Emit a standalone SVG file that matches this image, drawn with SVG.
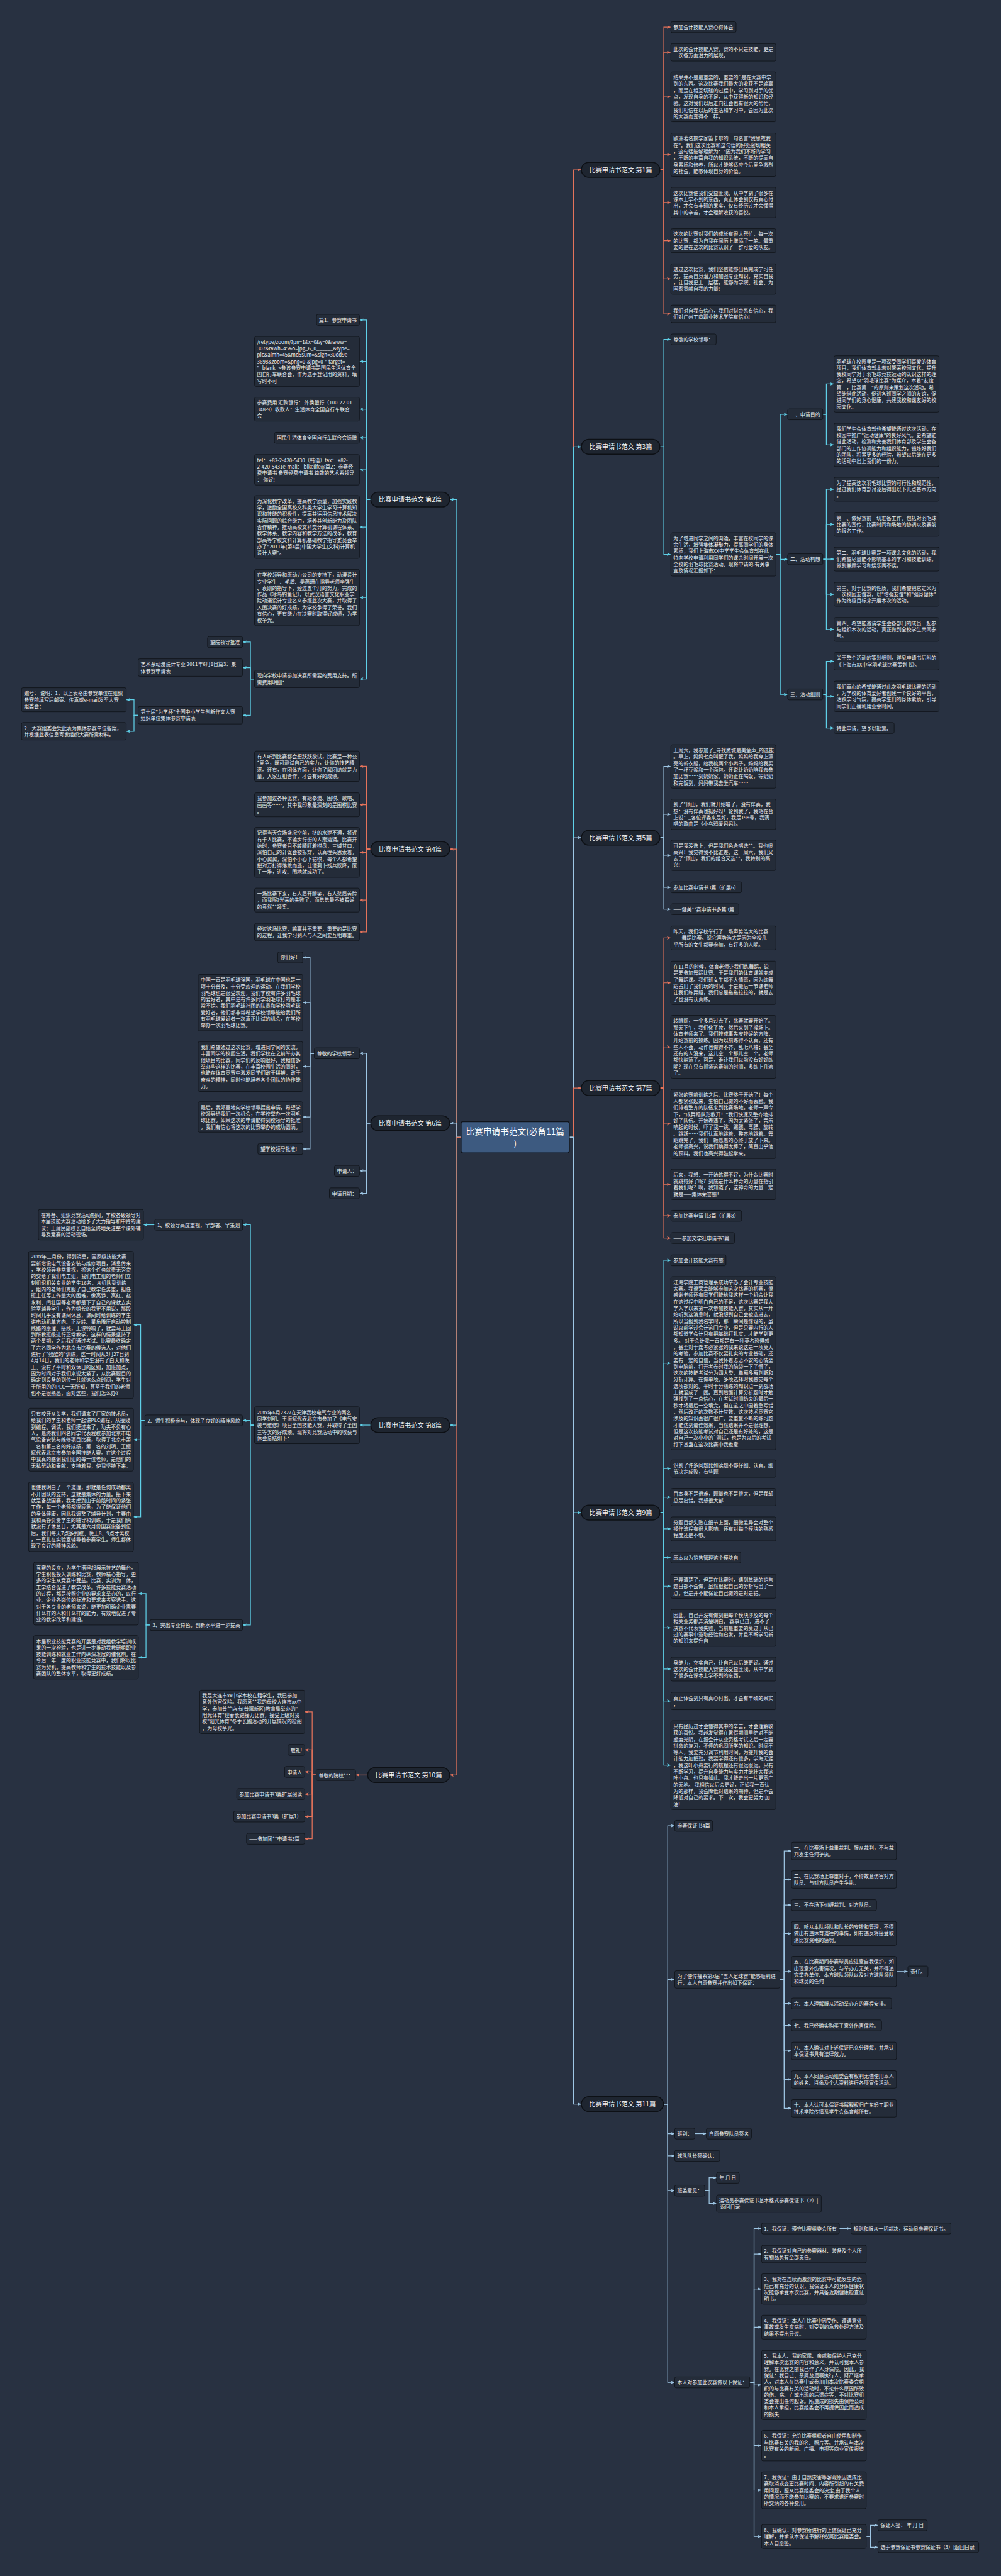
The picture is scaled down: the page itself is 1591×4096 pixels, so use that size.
<svg xmlns="http://www.w3.org/2000/svg" width="1591" height="4096" viewBox="0 0 1591 4096">
<style>
.t{font-family:"Noto Sans CJK SC","Noto Sans",sans-serif;font-size:12.8px;fill:#eef0f3}
.box{fill:#242c39;stroke:#11151c;stroke-width:1.5}
.br{fill:#1e2530;stroke:#0d1015;stroke-width:2.5}
.bt{font-family:"Noto Sans CJK SC","Noto Sans",sans-serif;font-size:16.5px;fill:#f4f6f8;text-anchor:middle}
.root{fill:#3d5a80;stroke:#11151c;stroke-width:2.5}
.rt{font-family:"Noto Sans CJK SC","Noto Sans",sans-serif;font-size:22px;fill:#ffffff;text-anchor:middle}
.l{fill:none;stroke-width:2}
.o{stroke:#e4735b;marker-end:url(#ao)}
.c{stroke:#5fd0e8;marker-end:url(#ac)}
.b{stroke:#9ec6e4;marker-end:url(#ab)}
</style>
<defs>
<marker id="ao" viewBox="0 0 10 8" refX="10" refY="4" markerWidth="10" markerHeight="8" markerUnits="userSpaceOnUse" orient="auto"><path d="M0,0 L10,4 L0,8 L2.5,4 z" fill="#e4735b"/></marker>
<marker id="ac" viewBox="0 0 10 8" refX="10" refY="4" markerWidth="10" markerHeight="8" markerUnits="userSpaceOnUse" orient="auto"><path d="M0,0 L10,4 L0,8 L2.5,4 z" fill="#5fd0e8"/></marker>
<marker id="ab" viewBox="0 0 10 8" refX="10" refY="4" markerWidth="10" markerHeight="8" markerUnits="userSpaceOnUse" orient="auto"><path d="M0,0 L10,4 L0,8 L2.5,4 z" fill="#9ec6e4"/></marker>
</defs>
<rect x="0" y="0" width="1591" height="4096" fill="#283141"/>
<g transform="scale(0.621)">
<g id="connectors">
<path class="l o" d="M1457,2912 H1468 V435 H1488"/>
<path class="l c" d="M1457,2912 H1468 V1144 H1488"/>
<path class="l b" d="M1457,2912 H1468 V2145 H1488"/>
<path class="l o" d="M1457,2912 H1468 V2786 H1488"/>
<path class="l c" d="M1457,2912 H1468 V3873 H1488"/>
<path class="l b" d="M1457,2912 H1468 V5387.5 H1488"/>
<path class="l c" d="M1180,2912 H1169 V1279 H1151"/>
<path class="l o" d="M1180,2912 H1169 V2174 H1151"/>
<path class="l b" d="M1180,2912 H1169 V2876 H1151"/>
<path class="l c" d="M1180,2912 H1169 V3649 H1151"/>
<path class="l o" d="M1180,2912 H1169 V4545 H1151"/>
<path class="l o" d="M1689,435 H1699 V69.5 H1717"/>
<path class="l o" d="M1689,435 H1699 V134 H1717"/>
<path class="l o" d="M1689,435 H1699 V248 H1717"/>
<path class="l o" d="M1689,435 H1699 V396 H1717"/>
<path class="l o" d="M1689,435 H1699 V518.5 H1717"/>
<path class="l o" d="M1689,435 H1699 V616 H1717"/>
<path class="l o" d="M1689,435 H1699 V714 H1717"/>
<path class="l o" d="M1689,435 H1699 V803.6 H1717"/>
<path class="l c" d="M1689,1144 H1699 V869 H1717"/>
<path class="l c" d="M1689,1144 H1699 V1419.5 H1717"/>
<path class="l c" d="M1986,1419.5 H1997 V1061 H2016"/>
<path class="l c" d="M1986,1419.5 H1997 V1432 H2016"/>
<path class="l c" d="M1986,1419.5 H1997 V1778 H2016"/>
<path class="l c" d="M2106,1061 H2115 V983 H2134.5"/>
<path class="l c" d="M2106,1061 H2115 V1139 H2134.5"/>
<path class="l c" d="M2106,1432 H2115 V1252.6 H2134.5"/>
<path class="l c" d="M2106,1432 H2115 V1342.6 H2134.5"/>
<path class="l c" d="M2106,1432 H2115 V1431.6 H2134.5"/>
<path class="l c" d="M2106,1432 H2115 V1521.6 H2134.5"/>
<path class="l c" d="M2106,1432 H2115 V1611.6 H2134.5"/>
<path class="l c" d="M2106,1778 H2115 V1693.3 H2134.5"/>
<path class="l c" d="M2106,1778 H2115 V1783 H2134.5"/>
<path class="l c" d="M2106,1778 H2115 V1864 H2134.5"/>
<path class="l b" d="M1689,2145 H1699 V1962.5 H1717"/>
<path class="l b" d="M1689,2145 H1699 V2085 H1717"/>
<path class="l b" d="M1689,2145 H1699 V2190 H1717"/>
<path class="l b" d="M1689,2145 H1699 V2272 H1717"/>
<path class="l b" d="M1689,2145 H1699 V2328 H1717"/>
<path class="l o" d="M1689,2786 H1699 V2401.6 H1717"/>
<path class="l o" d="M1689,2786 H1699 V2516.5 H1717"/>
<path class="l o" d="M1689,2786 H1699 V2680.5 H1717"/>
<path class="l o" d="M1689,2786 H1699 V2877.7 H1717"/>
<path class="l o" d="M1689,2786 H1699 V3032.6 H1717"/>
<path class="l o" d="M1689,2786 H1699 V3113 H1717"/>
<path class="l o" d="M1689,2786 H1699 V3170 H1717"/>
<path class="l c" d="M1689,3873 H1699 V3227 H1717"/>
<path class="l c" d="M1689,3873 H1699 V3490.5 H1717"/>
<path class="l c" d="M1689,3873 H1699 V3760.4 H1717"/>
<path class="l c" d="M1689,3873 H1699 V3833.4 H1717"/>
<path class="l c" d="M1689,3873 H1699 V3914.6 H1717"/>
<path class="l c" d="M1689,3873 H1699 V3988 H1717"/>
<path class="l c" d="M1689,3873 H1699 V4061.6 H1717"/>
<path class="l c" d="M1689,3873 H1699 V4168 H1717"/>
<path class="l c" d="M1689,3873 H1699 V4273.6 H1717"/>
<path class="l c" d="M1689,3873 H1699 V4355.4 H1717"/>
<path class="l c" d="M1689,3873 H1699 V4519.6 H1717"/>
<path class="l b" d="M1698,5387.5 H1709 V4675 H1727"/>
<path class="l b" d="M1698,5387.5 H1709 V5068.4 H1727"/>
<path class="l b" d="M1698,5387.5 H1709 V5463 H1727"/>
<path class="l b" d="M1698,5387.5 H1709 V5520 H1727"/>
<path class="l b" d="M1698,5387.5 H1709 V5609 H1727"/>
<path class="l b" d="M1698,5387.5 H1709 V6100 H1727"/>
<path class="l b" d="M1996,5068.4 H2007 V4739.4 H2025.5"/>
<path class="l b" d="M1996,5068.4 H2007 V4812.4 H2025.5"/>
<path class="l b" d="M1996,5068.4 H2007 V4878 H2025.5"/>
<path class="l b" d="M1996,5068.4 H2007 V4950.6 H2025.5"/>
<path class="l b" d="M1996,5068.4 H2007 V5048 H2025.5"/>
<path class="l b" d="M1996,5068.4 H2007 V5130 H2025.5"/>
<path class="l b" d="M1996,5068.4 H2007 V5186 H2025.5"/>
<path class="l b" d="M1996,5068.4 H2007 V5251.4 H2025.5"/>
<path class="l b" d="M1996,5068.4 H2007 V5324.4 H2025.5"/>
<path class="l b" d="M1996,5068.4 H2007 V5398.4 H2025.5"/>
<path class="l b" d="M2294.5,5048 H2323.7"/>
<path class="l b" d="M1778.4,5463 H1808"/>
<path class="l b" d="M1804,5609 H1815 V5576 H1834"/>
<path class="l b" d="M1804,5609 H1815 V5642 H1834"/>
<path class="l b" d="M1919,6100 H1930 V5706 H1949"/>
<path class="l b" d="M1919,6100 H1930 V5771.4 H1949"/>
<path class="l b" d="M1919,6100 H1930 V5861 H1949"/>
<path class="l b" d="M1919,6100 H1930 V5958.6 H1949"/>
<path class="l b" d="M1919,6100 H1930 V6106.8 H1949"/>
<path class="l b" d="M1919,6100 H1930 V6262 H1949"/>
<path class="l b" d="M1919,6100 H1930 V6376 H1949"/>
<path class="l b" d="M1919,6100 H1930 V6494.6 H1949"/>
<path class="l b" d="M2148,5706 H2178"/>
<path class="l b" d="M2217,6494.6 H2228 V6466 H2247"/>
<path class="l b" d="M2217,6494.6 H2228 V6522.5 H2247"/>
<path class="l c" d="M949,1279 H938 V819.5 H920"/>
<path class="l c" d="M949,1279 H938 V925.5 H920"/>
<path class="l c" d="M949,1279 H938 V1047.6 H920"/>
<path class="l c" d="M949,1279 H938 V1121 H920"/>
<path class="l c" d="M949,1279 H938 V1203 H920"/>
<path class="l c" d="M949,1279 H938 V1349.5 H920"/>
<path class="l c" d="M949,1279 H938 V1530 H920"/>
<path class="l c" d="M949,1279 H938 V1738.4 H920"/>
<path class="l c" d="M651.5,1738.4 H641 V1644 H621"/>
<path class="l c" d="M651.5,1738.4 H641 V1709.4 H621"/>
<path class="l c" d="M651.5,1738.4 H641 V1831.4 H621"/>
<path class="l c" d="M353.5,1831.4 H343 V1791.6 H323"/>
<path class="l c" d="M353.5,1831.4 H343 V1872.4 H323"/>
<path class="l o" d="M949,2174 H938 V1962 H920"/>
<path class="l o" d="M949,2174 H938 V2060.6 H920"/>
<path class="l o" d="M949,2174 H938 V2182.5 H920"/>
<path class="l o" d="M949,2174 H938 V2304.6 H920"/>
<path class="l o" d="M949,2174 H938 V2386.4 H920"/>
<path class="l b" d="M949,2876 H938 V2697 H920"/>
<path class="l b" d="M949,2876 H938 V2998 H920"/>
<path class="l b" d="M949,2876 H938 V3055.6 H920"/>
<path class="l b" d="M804.6,2697 H793.6 V2451.5 H775"/>
<path class="l b" d="M804.6,2697 H793.6 V2567 H775"/>
<path class="l b" d="M804.6,2697 H793.6 V2730.8 H775"/>
<path class="l b" d="M804.6,2697 H793.6 V2860 H775"/>
<path class="l b" d="M804.6,2697 H793.6 V2942 H775"/>
<path class="l c" d="M949,3649 H920"/>
<path class="l c" d="M651.5,3649 H641 V3136 H621"/>
<path class="l c" d="M651.5,3649 H641 V3637 H621"/>
<path class="l c" d="M651.5,3649 H641 V4161 H621"/>
<path class="l c" d="M396,3136 H367"/>
<path class="l c" d="M371,3637 H360 V3392.4 H341.5"/>
<path class="l c" d="M371,3637 H360 V3686.5 H341.5"/>
<path class="l c" d="M371,3637 H360 V3883.8 H341.5"/>
<path class="l c" d="M384,4161 H373.7 V4080.5 H354"/>
<path class="l c" d="M384,4161 H373.7 V4243.6 H354"/>
<path class="l o" d="M941,4545 H910"/>
<path class="l o" d="M809,4545 H799 V4383 H780"/>
<path class="l o" d="M809,4545 H799 V4480.6 H780"/>
<path class="l o" d="M809,4545 H799 V4537 H780"/>
<path class="l o" d="M809,4545 H799 V4593.6 H780"/>
<path class="l o" d="M809,4545 H799 V4651 H780"/>
<path class="l o" d="M809,4545 H799 V4708 H780"/>
</g>

<g id="root"><rect class="root" x="1180" y="2872" width="277" height="80" rx="5"/><text class="rt" x="1318.5" y="2905">比赛申请书范文(必备11篇</text><text class="rt" x="1318.5" y="2935">)</text></g>

<g id="b1"><rect class="br" x="1488" y="416" width="201" height="38" rx="19"/><text class="bt" x="1588.5" y="440.8">比赛申请书范文 第1篇</text></g>
<g id="b3"><rect class="br" x="1488" y="1125" width="201" height="38" rx="19"/><text class="bt" x="1588.5" y="1149.8">比赛申请书范文 第3篇</text></g>
<g id="b5"><rect class="br" x="1488" y="2126" width="201" height="38" rx="19"/><text class="bt" x="1588.5" y="2150.8">比赛申请书范文 第5篇</text></g>
<g id="b7"><rect class="br" x="1488" y="2767" width="201" height="38" rx="19"/><text class="bt" x="1588.5" y="2791.8">比赛申请书范文 第7篇</text></g>
<g id="b9"><rect class="br" x="1488" y="3854" width="201" height="38" rx="19"/><text class="bt" x="1588.5" y="3878.8">比赛申请书范文 第9篇</text></g>
<g id="b11"><rect class="br" x="1488" y="5368.5" width="210" height="38" rx="19"/><text class="bt" x="1593" y="5393.3">比赛申请书范文 第11篇</text></g>
<g id="b2"><rect class="br" x="949" y="1260" width="202" height="38" rx="19"/><text class="bt" x="1050" y="1284.8">比赛申请书范文 第2篇</text></g>
<g id="b4"><rect class="br" x="949" y="2155" width="202" height="38" rx="19"/><text class="bt" x="1050" y="2179.8">比赛申请书范文 第4篇</text></g>
<g id="b6"><rect class="br" x="949" y="2857" width="202" height="38" rx="19"/><text class="bt" x="1050" y="2881.8">比赛申请书范文 第6篇</text></g>
<g id="b8"><rect class="br" x="949" y="3630" width="202" height="38" rx="19"/><text class="bt" x="1050" y="3654.8">比赛申请书范文 第8篇</text></g>
<g id="b10"><rect class="br" x="941" y="4526" width="210" height="38" rx="19"/><text class="bt" x="1046" y="4550.8">比赛申请书范文 第10篇</text></g>

<!-- 第1篇 -->
<g id="n1_1"><rect class="box" x="1717" y="55.5" width="167" height="28" rx="4"/><text class="t" x="1723.5" y="74.5">参加会计技能大赛心得体会</text></g>
<g id="n1_2"><rect class="box" x="1717" y="111.6" width="269" height="44.7" rx="4"/><text class="t" x="1723.5" y="130.6"><tspan x="1723.5">此次的会计技能大赛，赛的不只是技能，更是</tspan><tspan x="1723.5" dy="16.6">一次各方面潜力的展现。</tspan></text></g>
<g id="n1_3"><rect class="box" x="1717" y="184" width="269" height="127.7" rx="4"/><text class="t" x="1723.5" y="203"><tspan x="1723.5">结果并不是最重要的，重要的`是在大赛中学</tspan><tspan x="1723.5" dy="16.6">到的东西。这次比赛我们最大的收获不是输赢</tspan><tspan x="1723.5" dy="16.6">，而是在相互切磋的过程中，学习到对手的优</tspan><tspan x="1723.5" dy="16.6">点，发现自身的不足，从中获得新的知识和经</tspan><tspan x="1723.5" dy="16.6">验。这对我们以后走向社会也有很大的帮忙，</tspan><tspan x="1723.5" dy="16.6">我们相信在以后的生活和学习中，会因为此次</tspan><tspan x="1723.5" dy="16.6">的大赛而变得不一样。</tspan></text></g>
<g id="n1_4"><rect class="box" x="1717" y="340.6" width="269" height="111.1" rx="4"/><text class="t" x="1723.5" y="359.6"><tspan x="1723.5">欧洲著名数学家笛卡尔的一句名言"我思故我</tspan><tspan x="1723.5" dy="16.6">在"。我们这次比赛和这句话的好处密切相关</tspan><tspan x="1723.5" dy="16.6">，这句话能够理解为："因为我们不断的学习</tspan><tspan x="1723.5" dy="16.6">，不断的丰富自我的知识系统，不断的提高自</tspan><tspan x="1723.5" dy="16.6">身素质和修养，所以才能够适应今后竞争激烈</tspan><tspan x="1723.5" dy="16.6">的社会，能够体现自身的价值。</tspan></text></g>
<g id="n1_5"><rect class="box" x="1717" y="479.6" width="269" height="77.9" rx="4"/><text class="t" x="1723.5" y="498.6"><tspan x="1723.5">这次比赛使我们受益匪浅，从中学到了很多在</tspan><tspan x="1723.5" dy="16.6">课本上学不到的东西，真正体会到仅有真心付</tspan><tspan x="1723.5" dy="16.6">出，才会有丰硕的果实，仅有经历过才会懂得</tspan><tspan x="1723.5" dy="16.6">其中的辛苦，才会理解收获的喜悦。</tspan></text></g>
<g id="n1_6"><rect class="box" x="1717" y="585.5" width="269" height="61.3" rx="4"/><text class="t" x="1723.5" y="604.5"><tspan x="1723.5">这次的比赛对我们的成长有很大帮忙，每一次</tspan><tspan x="1723.5" dy="16.6">的比赛，都为自我在阅历上增添了一笔。最重</tspan><tspan x="1723.5" dy="16.6">要的是在这次的比赛认识了一群可爱的队友。</tspan></text></g>
<g id="n1_7"><rect class="box" x="1717" y="675.4" width="269" height="77.9" rx="4"/><text class="t" x="1723.5" y="694.4"><tspan x="1723.5">透过这次比赛，我们坚信能够出色完成学习任</tspan><tspan x="1723.5" dy="16.6">务，提高自身潜力和加强专业知识，充实自我</tspan><tspan x="1723.5" dy="16.6">，让自我更上一层楼，能够为学院、社会、为</tspan><tspan x="1723.5" dy="16.6">国家贡献自我的力量!</tspan></text></g>
<g id="n1_8"><rect class="box" x="1717" y="781.3" width="269" height="44.7" rx="4"/><text class="t" x="1723.5" y="800.3"><tspan x="1723.5">我们对自我有信心，我们对财金系有信心，我</tspan><tspan x="1723.5" dy="16.6">们对广州工商职业技术学院有信心!</tspan></text></g>

<!-- 第3篇 -->
<g id="n3_1"><rect class="box" x="1717" y="855" width="116" height="28" rx="4"/><text class="t" x="1723.5" y="874">尊敬的学校领导：</text></g>
<g id="n3_2"><rect class="box" x="1717" y="1364" width="269" height="111.1" rx="4"/><text class="t" x="1723.5" y="1383"><tspan x="1723.5">为了增进同学之间的沟通，丰富在校同学的课</tspan><tspan x="1723.5" dy="16.6">余生活，增强集体凝聚力，提高同学们的身体</tspan><tspan x="1723.5" dy="16.6">素质，我们上海市XX中学学生会体育部在此</tspan><tspan x="1723.5" dy="16.6">特向学校申请利用同学们的课余时间开展一次</tspan><tspan x="1723.5" dy="16.6">全校的羽毛球比赛活动。现将申请的.有关事</tspan><tspan x="1723.5" dy="16.6">宜及情况汇报如下：</tspan></text></g>
<g id="n3_s1"><rect class="box" x="2016" y="1047" width="90" height="28" rx="4"/><text class="t" x="2022.5" y="1066">一、申请目的</text></g>
<g id="n3_s1a"><rect class="box" x="2134.5" y="911" width="269" height="144.3" rx="4"/><text class="t" x="2141" y="930"><tspan x="2141">羽毛球在校园里是一项深受同学们喜爱的体育</tspan><tspan x="2141" dy="16.6">项目，我们体育部本着对繁荣校园文化，提升</tspan><tspan x="2141" dy="16.6">我校同学对于羽毛球竞技运动的认识这样的理</tspan><tspan x="2141" dy="16.6">念，希望以"羽毛球比赛"为媒介，本着"友谊</tspan><tspan x="2141" dy="16.6">第一，比赛第二"的原则来策划这次活动。希</tspan><tspan x="2141" dy="16.6">望能借此活动，促进各班同学之间的友谊，促</tspan><tspan x="2141" dy="16.6">进同学们的身心健康，共建我校和谐友好的校</tspan><tspan x="2141" dy="16.6">园文化。</tspan></text></g>
<g id="n3_s1b"><rect class="box" x="2134.5" y="1083.6" width="269" height="111.1" rx="4"/><text class="t" x="2141" y="1102.6"><tspan x="2141">我们学生会体育部也希望能通过这次活动，在</tspan><tspan x="2141" dy="16.6">校园中推广"运动健康"的良好风气。更希望能</tspan><tspan x="2141" dy="16.6">借此活动，检测和完善我们体育部及学生会各</tspan><tspan x="2141" dy="16.6">部门的工作协调能力和组织能力，锻炼好我们</tspan><tspan x="2141" dy="16.6">的团队，积累更多的经验，希望以后能在更多</tspan><tspan x="2141" dy="16.6">的活动中出上我们的一份力。</tspan></text></g>
<g id="n3_s2"><rect class="box" x="2016" y="1418" width="90" height="28" rx="4"/><text class="t" x="2022.5" y="1437">二、活动构想</text></g>
<g id="n3_s2a"><rect class="box" x="2134.5" y="1222" width="269" height="61.3" rx="4"/><text class="t" x="2141" y="1241"><tspan x="2141">为了提高这次羽毛球比赛的可行性和规范性，</tspan><tspan x="2141" dy="16.6">经过我们体育部讨论后得出以下几点基本方向</tspan><tspan x="2141" dy="16.6">。</tspan></text></g>
<g id="n3_s2b"><rect class="box" x="2134.5" y="1312" width="269" height="61.3" rx="4"/><text class="t" x="2141" y="1331"><tspan x="2141">第一、做好赛前一切准备工作，包括对羽毛球</tspan><tspan x="2141" dy="16.6">比赛的宣传、比赛时间和场地的协调以及赛前</tspan><tspan x="2141" dy="16.6">的报名工作。</tspan></text></g>
<g id="n3_s2c"><rect class="box" x="2134.5" y="1401" width="269" height="61.3" rx="4"/><text class="t" x="2141" y="1420"><tspan x="2141">第二、羽毛球比赛是一项课余文化的活动，我</tspan><tspan x="2141" dy="16.6">们希望尽量能不影响基本的学习和技能训练，</tspan><tspan x="2141" dy="16.6">做到兼顾学习和娱乐两不误。</tspan></text></g>
<g id="n3_s2d"><rect class="box" x="2134.5" y="1491" width="269" height="61.3" rx="4"/><text class="t" x="2141" y="1510"><tspan x="2141">第三、对于比赛的性质，我们希望把它定义为</tspan><tspan x="2141" dy="16.6">一次校园友谊赛，以"增强友谊"和"强身健体"</tspan><tspan x="2141" dy="16.6">作为终极目标来开展本次的活动。</tspan></text></g>
<g id="n3_s2e"><rect class="box" x="2134.5" y="1581" width="269" height="61.3" rx="4"/><text class="t" x="2141" y="1600"><tspan x="2141">第四、希望能邀请学生会各部门的成员一起参</tspan><tspan x="2141" dy="16.6">与组织本次的活动，真正做到全校学生共同参</tspan><tspan x="2141" dy="16.6">与。</tspan></text></g>
<g id="n3_s3"><rect class="box" x="2016" y="1764" width="90" height="28" rx="4"/><text class="t" x="2022.5" y="1783">三、活动细则</text></g>
<g id="n3_s3a"><rect class="box" x="2134.5" y="1671" width="269" height="44.7" rx="4"/><text class="t" x="2141" y="1690"><tspan x="2141">关于整个活动的策划细则，详见申请书后附的</tspan><tspan x="2141" dy="16.6">《上海市XX中学羽毛球比赛策划书》。</tspan></text></g>
<g id="n3_s3b"><rect class="box" x="2134.5" y="1744" width="269" height="77.9" rx="4"/><text class="t" x="2141" y="1763"><tspan x="2141">我们真心的希望能通过此次羽毛球比赛的活动</tspan><tspan x="2141" dy="16.6">，为学校的体育爱好者创建一个良好的平台，</tspan><tspan x="2141" dy="16.6">活跃学习气氛，提高学生们的身体素质，引导</tspan><tspan x="2141" dy="16.6">同学们正确利用业余时间。</tspan></text></g>
<g id="n3_s3c"><rect class="box" x="2134.5" y="1850" width="154" height="28" rx="4"/><text class="t" x="2141" y="1869">特此申请，望予以批复。</text></g>

<!-- 第5篇 -->
<g id="n5_1"><rect class="box" x="1717" y="1907" width="269" height="111.1" rx="4"/><text class="t" x="1723.5" y="1926"><tspan x="1723.5">上周六，我参加了_寻找鹰城最美童声_的选拔</tspan><tspan x="1723.5" dy="16.6">。早上，妈妈七点叫醒了我。妈妈给我穿上漂</tspan><tspan x="1723.5" dy="16.6">亮的新衣服，给我梳两个小辫子。妈妈给我买</tspan><tspan x="1723.5" dy="16.6">了一杯豆浆和一个面包。还说让奶奶陪我去参</tspan><tspan x="1723.5" dy="16.6">加比赛……到奶奶家，奶奶正在喝饭，等奶奶</tspan><tspan x="1723.5" dy="16.6">和完饭到，妈妈带我去坐汽车……</tspan></text></g>
<g id="n5_2"><rect class="box" x="1717" y="2046" width="269" height="77.9" rx="4"/><text class="t" x="1723.5" y="2065"><tspan x="1723.5">到了*顶山，我们就开始唱了，没有伴奏，我</tspan><tspan x="1723.5" dy="16.6">想：没有伴奏也挺好呀！轮到我了，我站在台</tspan><tspan x="1723.5" dy="16.6">上说：_各位评委来是好，我是198号，我演</tspan><tspan x="1723.5" dy="16.6">唱的歌曲是《小乌鸦爱妈妈》。_</tspan></text></g>
<g id="n5_3"><rect class="box" x="1717" y="2151" width="269" height="77.9" rx="4"/><text class="t" x="1723.5" y="2170"><tspan x="1723.5">可是我没选上，但是我们色合唱选**。我也很</tspan><tspan x="1723.5" dy="16.6">高兴！我觉得我不比谁差，这一周六，我们又</tspan><tspan x="1723.5" dy="16.6">去了*顶山，我们的组合又选**。我特别的高</tspan><tspan x="1723.5" dy="16.6">兴!</tspan></text></g>
<g id="n5_4"><rect class="box" x="1717" y="2258" width="181" height="28" rx="4"/><text class="t" x="1723.5" y="2277">参加比赛申请书3篇（扩展6）</text></g>
<g id="n5_5"><rect class="box" x="1717" y="2314" width="174" height="28" rx="4"/><text class="t" x="1723.5" y="2333">——健美**赛申请书多篇3篇</text></g>

<!-- 第7篇 -->
<g id="n7_1"><rect class="box" x="1717" y="2371" width="269" height="61.3" rx="4"/><text class="t" x="1723.5" y="2390"><tspan x="1723.5">昨天，我们学校举行了一场声势浩大的比赛</tspan><tspan x="1723.5" dy="16.6">——舞蹈比赛。说它声势浩大是因为全校几</tspan><tspan x="1723.5" dy="16.6">乎所有的女生都要参加，有好多的人呢。</tspan></text></g>
<g id="n7_2"><rect class="box" x="1717" y="2461" width="269" height="111.1" rx="4"/><text class="t" x="1723.5" y="2480"><tspan x="1723.5">在11月的时候，体育老师让我们练舞蹈，说</tspan><tspan x="1723.5" dy="16.6">是要参加舞蹈比赛。于是我们的体育课就变成</tspan><tspan x="1723.5" dy="16.6">了舞蹈课。我们班女生都不大情愿，因为练舞</tspan><tspan x="1723.5" dy="16.6">蹈占用了我们玩的时间。于是最后一节课老师</tspan><tspan x="1723.5" dy="16.6">让我们练舞蹈，我们总是拖拖拉拉的，就是去</tspan><tspan x="1723.5" dy="16.6">了也没有认真练。</tspan></text></g>
<g id="n7_3"><rect class="box" x="1717" y="2600" width="269" height="160.9" rx="4"/><text class="t" x="1723.5" y="2619"><tspan x="1723.5">转眼间，一个多月过去了，比赛就要开始了。</tspan><tspan x="1723.5" dy="16.6">那天下午，我们化了妆，然后来到了操场上。</tspan><tspan x="1723.5" dy="16.6">体育老师来了。我们排成事先安排好的方阵，</tspan><tspan x="1723.5" dy="16.6">开始赛前的操练。因为以前练得不认真，还有</tspan><tspan x="1723.5" dy="16.6">些人不会，动作也做得不齐，乱七八糟；甚至</tspan><tspan x="1723.5" dy="16.6">还有的人没来，这儿空一个那儿空一个。老师</tspan><tspan x="1723.5" dy="16.6">都快崩溃了。可是，谁让我们以前没有好好练</tspan><tspan x="1723.5" dy="16.6">呢？现在只有抓紧这赛前的时间，多练上几遍</tspan><tspan x="1723.5" dy="16.6">了。</tspan></text></g>
<g id="n7_4"><rect class="box" x="1717" y="2789" width="269" height="177.5" rx="4"/><text class="t" x="1723.5" y="2808"><tspan x="1723.5">紧张的赛前训练之后，比赛终于开始了！每个</tspan><tspan x="1723.5" dy="16.6">人都紧张起来，生怕自己做的不好而丢脸。我</tspan><tspan x="1723.5" dy="16.6">们排着整齐的队伍来到比赛场地。老师一声令</tspan><tspan x="1723.5" dy="16.6">下，"成舞蹈队形散开！"我们快速又整齐地排</tspan><tspan x="1723.5" dy="16.6">好了队伍。开始表演了。因为太紧张了，音乐</tspan><tspan x="1723.5" dy="16.6">响起的时候，吓了我一跳。踢腿、弯腰、旋转</tspan><tspan x="1723.5" dy="16.6">、跳跃……我们认真地跳着，整齐地跳着。舞</tspan><tspan x="1723.5" dy="16.6">蹈跳完了，我们一颗悬着的心终于放了下来。</tspan><tspan x="1723.5" dy="16.6">老师很高兴，说我们跳得太棒了，简直出乎他</tspan><tspan x="1723.5" dy="16.6">的预料。我们也高兴得鼓起掌来。</tspan></text></g>
<g id="n7_5"><rect class="box" x="1717" y="2993.6" width="269" height="77.9" rx="4"/><text class="t" x="1723.5" y="3012.6"><tspan x="1723.5">后来，我想：一开始练得不好，为什么比赛时</tspan><tspan x="1723.5" dy="16.6">就跳得好了呢？到底是什么神奇的力量在指引</tspan><tspan x="1723.5" dy="16.6">着我们呢？啊，我知道了，这神奇的力量一定</tspan><tspan x="1723.5" dy="16.6">就是——集体荣誉感！</tspan></text></g>
<g id="n7_6"><rect class="box" x="1717" y="3099" width="181" height="28" rx="4"/><text class="t" x="1723.5" y="3118">参加比赛申请书3篇（扩展8）</text></g>
<g id="n7_7"><rect class="box" x="1717" y="3156" width="163" height="28" rx="4"/><text class="t" x="1723.5" y="3175">——参加文学社申请书3篇</text></g>

<!-- 第9篇 -->
<g id="n9_1"><rect class="box" x="1717" y="3213" width="141" height="28" rx="4"/><text class="t" x="1723.5" y="3232">参加会计技能大赛有感</text></g>
<g id="n9_2"><rect class="box" x="1717" y="3269" width="269" height="443.1" rx="4"/><text class="t" x="1723.5" y="3288"><tspan x="1723.5">江海学院工商管理系成功举办了会计专业技能</tspan><tspan x="1723.5" dy="16.6">大赛。我很荣幸能够参加这次比赛的初赛，很</tspan><tspan x="1723.5" dy="16.6">感谢老师还有同学们能给我这样一个机会让我</tspan><tspan x="1723.5" dy="16.6">在这过程中明白自己的不足，这次比赛是我大</tspan><tspan x="1723.5" dy="16.6">学入学以来第一次参加技能大赛，其实从一开</tspan><tspan x="1723.5" dy="16.6">始听到这消息时，就没想到自己会被选进去，</tspan><tspan x="1723.5" dy="16.6">所以当报到我名字时，那一瞬间是惊讶的，虽</tspan><tspan x="1723.5" dy="16.6">说以前学过会计这门专业，但是只要内行的人</tspan><tspan x="1723.5" dy="16.6">都知道学会计只有把基础打扎实，才能学到更</tspan><tspan x="1723.5" dy="16.6">多。 对于会计我一直都是有一种莫名恐惧感</tspan><tspan x="1723.5" dy="16.6">，甚至对于逢考必紧张的我来说这是一项莫大</tspan><tspan x="1723.5" dy="16.6">的考验，参加比赛不仅要扎实的专业基础，还</tspan><tspan x="1723.5" dy="16.6">要有一定的自信，当我怀着忐忑不安的心情坐</tspan><tspan x="1723.5" dy="16.6">到电脑前，打开考卷时我的脑袋一下子懵了，</tspan><tspan x="1723.5" dy="16.6">这次的技能考试分为四大类，单癣多癣判断和</tspan><tspan x="1723.5" dy="16.6">分析计算。在做单项，多项选择时我感觉每个</tspan><tspan x="1723.5" dy="16.6">选项都对的。平时十分熟练的知识点一到战场</tspan><tspan x="1723.5" dy="16.6">上就混成了一团。直到后面计算分析题时才勉</tspan><tspan x="1723.5" dy="16.6">强找到了一点信心，在考试时间结束的最后一</tspan><tspan x="1723.5" dy="16.6">秒才将最后一空填完，但在这之中因着急写错</tspan><tspan x="1723.5" dy="16.6">，然后改正的次数不计其数，这次技术竞赛它</tspan><tspan x="1723.5" dy="16.6">涉及的知识面很广很广，要重复不断的练习题</tspan><tspan x="1723.5" dy="16.6">才能达到最佳效果，当然结果并不是很理想，</tspan><tspan x="1723.5" dy="16.6">但是这次技能考试对自己还是有好处的，这是</tspan><tspan x="1723.5" dy="16.6">对自己一次小小的`测试，也是为以后的考试</tspan><tspan x="1723.5" dy="16.6">打下基蛊在这次比赛中我也意</tspan></text></g>
<g id="n9_3"><rect class="box" x="1717" y="3738" width="269" height="44.7" rx="4"/><text class="t" x="1723.5" y="3757"><tspan x="1723.5">识到了许多问题比如读题不够仔细、认真。细</tspan><tspan x="1723.5" dy="16.6">节决定成败，有些题</tspan></text></g>
<g id="n9_4"><rect class="box" x="1717" y="3811" width="269" height="44.7" rx="4"/><text class="t" x="1723.5" y="3830"><tspan x="1723.5">目本身不是很难，题量也不是很大，但是我却</tspan><tspan x="1723.5" dy="16.6">总是出错。我想很大部</tspan></text></g>
<g id="n9_5"><rect class="box" x="1717" y="3884" width="269" height="61.3" rx="4"/><text class="t" x="1723.5" y="3903"><tspan x="1723.5">分题目都失败在细节上面，细微差异会对整个</tspan><tspan x="1723.5" dy="16.6">操作流程有很大影响。还有对每个模块的熟悉</tspan><tspan x="1723.5" dy="16.6">程度还是不够。</tspan></text></g>
<g id="n9_6"><rect class="box" x="1717" y="3974" width="179" height="28" rx="4"/><text class="t" x="1723.5" y="3993">原本以为销售管理这个模块自</text></g>
<g id="n9_7"><rect class="box" x="1717" y="4031" width="269" height="61.3" rx="4"/><text class="t" x="1723.5" y="4050"><tspan x="1723.5">己弄清楚了，但是在比赛时，遇到基础的销售</tspan><tspan x="1723.5" dy="16.6">题目都不会做，虽然根据自己的分析写出了一</tspan><tspan x="1723.5" dy="16.6">点，但是并不能保证自己做的是对是错。</tspan></text></g>
<g id="n9_8"><rect class="box" x="1717" y="4121" width="269" height="94.5" rx="4"/><text class="t" x="1723.5" y="4140"><tspan x="1723.5">因此，自己并没有做到把每个模块涉及的每个</tspan><tspan x="1723.5" dy="16.6">相关业务都弄清楚明白。 赛事已过，进不了</tspan><tspan x="1723.5" dy="16.6">决赛不代表我失败，当前最重要的莫过于从已</tspan><tspan x="1723.5" dy="16.6">过的赛事中汲取经验和启发，并且不断学习新</tspan><tspan x="1723.5" dy="16.6">的知识来提升自</tspan></text></g>
<g id="n9_9"><rect class="box" x="1717" y="4243" width="269" height="61.3" rx="4"/><text class="t" x="1723.5" y="4262"><tspan x="1723.5">身能力，充实自己，让自己以后能更好。通过</tspan><tspan x="1723.5" dy="16.6">这次的会计技能大赛使我受益匪浅，从中学到</tspan><tspan x="1723.5" dy="16.6">了很多在课本上学不到的东西，</tspan></text></g>
<g id="n9_10"><rect class="box" x="1717" y="4333" width="269" height="44.7" rx="4"/><text class="t" x="1723.5" y="4352"><tspan x="1723.5">真正体会到只有真心付出，才会有丰硕的果实</tspan><tspan x="1723.5" dy="16.6">，</tspan></text></g>
<g id="n9_11"><rect class="box" x="1717" y="4406" width="269" height="227.3" rx="4"/><text class="t" x="1723.5" y="4425"><tspan x="1723.5">只有经历过才会懂得其中的辛苦，才会理解收</tspan><tspan x="1723.5" dy="16.6">获的喜悦。我越发觉得在暑假期间里绝对不能</tspan><tspan x="1723.5" dy="16.6">虚度光阴，在报会计从业资格考试之后一定要</tspan><tspan x="1723.5" dy="16.6">拼命的复习，不停的巩固所学的知识。时间不</tspan><tspan x="1723.5" dy="16.6">等人，我要充分调节利用时间，为提升我的会</tspan><tspan x="1723.5" dy="16.6">计能力加把劲。我要学得还有很多，学海无涯</tspan><tspan x="1723.5" dy="16.6">，我这叶小舟要行的航程还有很远很远。只有</tspan><tspan x="1723.5" dy="16.6">不断学习，提升自身能力与实力才能壮大我这</tspan><tspan x="1723.5" dy="16.6">叶小舟。也只有如此，我才能走出一片更宽广</tspan><tspan x="1723.5" dy="16.6">的天地。 我相信以后会更好，正如我一直认</tspan><tspan x="1723.5" dy="16.6">为的那样，我会降低对结果的期待，但是不会</tspan><tspan x="1723.5" dy="16.6">降低对自己的要求。下一次，我会更努力!加</tspan><tspan x="1723.5" dy="16.6">油!</tspan></text></g>

<!-- 第11篇 -->
<g id="n11_1"><rect class="box" x="1727" y="4661" width="97" height="28" rx="4"/><text class="t" x="1733.5" y="4680">参赛保证书4篇</text></g>
<g id="n11_2"><rect class="box" x="1727" y="5046" width="269" height="44.7" rx="4"/><text class="t" x="1733.5" y="5065"><tspan x="1733.5">为了使传播系第x届 "五人足球赛"能够顺利进</tspan><tspan x="1733.5" dy="16.6">行，本人自愿参赛并作出如下保证：</tspan></text></g>
<g id="n11_2a"><rect class="box" x="2025.5" y="4717" width="269" height="44.7" rx="4"/><text class="t" x="2032" y="4736"><tspan x="2032">一、在比赛场上尊重裁判、服从裁判，不与裁</tspan><tspan x="2032" dy="16.6">判发生任何争执。</tspan></text></g>
<g id="n11_2b"><rect class="box" x="2025.5" y="4790" width="269" height="44.7" rx="4"/><text class="t" x="2032" y="4809"><tspan x="2032">二、在比赛场上尊重对手，不得故意伤害对方</tspan><tspan x="2032" dy="16.6">队员、与对方队员产生争执。</tspan></text></g>
<g id="n11_2c"><rect class="box" x="2025.5" y="4864" width="218" height="28" rx="4"/><text class="t" x="2032" y="4883">三、不在场下纠缠裁判、对方队员。</text></g>
<g id="n11_2d"><rect class="box" x="2025.5" y="4920" width="269" height="61.3" rx="4"/><text class="t" x="2032" y="4939"><tspan x="2032">四、听从本队领队和队长的安排和管理，不得</tspan><tspan x="2032" dy="16.6">做出有违体育道德的事情，如有违反将接受取</tspan><tspan x="2032" dy="16.6">消比赛资格的惩罚。</tspan></text></g>
<g id="n11_2e"><rect class="box" x="2025.5" y="5009" width="269" height="77.9" rx="4"/><text class="t" x="2032" y="5028"><tspan x="2032">五、在比赛期间参赛球员应注意自我保护，如</tspan><tspan x="2032" dy="16.6">出现意外伤害情况，与举办方无关，并不得追</tspan><tspan x="2032" dy="16.6">究举办单位、本方球队领队以及对方球队领队</tspan><tspan x="2032" dy="16.6">和球员的任何</tspan></text></g>
<g id="n11_2e1"><rect class="box" x="2323.7" y="5034" width="51.4" height="28" rx="4"/><text class="t" x="2330.2" y="5053">责任。</text></g>
<g id="n11_2f"><rect class="box" x="2025.5" y="5116" width="256.6" height="28" rx="4"/><text class="t" x="2032" y="5135">六、本人理解服从活动举办方的赛程安排。</text></g>
<g id="n11_2g"><rect class="box" x="2025.5" y="5172" width="231" height="28" rx="4"/><text class="t" x="2032" y="5191">七、我已经确实购买了意外伤害保险。</text></g>
<g id="n11_2h"><rect class="box" x="2025.5" y="5229" width="269" height="44.7" rx="4"/><text class="t" x="2032" y="5248"><tspan x="2032">八、本人确认对上述保证已充分理解，并承认</tspan><tspan x="2032" dy="16.6">本保证书具有法律效力。</tspan></text></g>
<g id="n11_2i"><rect class="box" x="2025.5" y="5302" width="269" height="44.7" rx="4"/><text class="t" x="2032" y="5321"><tspan x="2032">九、本人同意活动组委会有权利无偿使用本人</tspan><tspan x="2032" dy="16.6">的姓名、肖像及个人资料进行各项宣传活动。</tspan></text></g>
<g id="n11_2j"><rect class="box" x="2025.5" y="5376" width="269" height="44.7" rx="4"/><text class="t" x="2032" y="5395"><tspan x="2032">十、本人认可本保证书解释权归广东轻工职业</tspan><tspan x="2032" dy="16.6">技术学院传播系学生会体育部所有。</tspan></text></g>
<g id="n11_3"><rect class="box" x="1727" y="5449" width="51.4" height="28" rx="4"/><text class="t" x="1733.5" y="5468">班别：</text></g>
<g id="n11_3a"><rect class="box" x="1808" y="5449" width="115.4" height="28" rx="4"/><text class="t" x="1814.5" y="5468">自愿参赛队员签名</text></g>
<g id="n11_4"><rect class="box" x="1727" y="5506" width="115.4" height="28" rx="4"/><text class="t" x="1733.5" y="5525">球队队长签确认：</text></g>
<g id="n11_5"><rect class="box" x="1727" y="5595" width="77" height="28" rx="4"/><text class="t" x="1733.5" y="5614">班委意见：</text></g>
<g id="n11_5a"><rect class="box" x="1834" y="5562" width="58" height="28" rx="4"/><text class="t" x="1840.5" y="5581">年 月 日</text></g>
<g id="n11_5b"><rect class="box" x="1834" y="5620" width="268" height="44.7" rx="4"/><text class="t" x="1840.5" y="5639"><tspan x="1840.5">运动员参赛保证书基本格式参赛保证书（2）|</tspan><tspan x="1840.5" dy="16.6"> 返回目录</tspan></text></g>
<g id="n11_6"><rect class="box" x="1727" y="6086" width="192" height="28" rx="4"/><text class="t" x="1733.5" y="6105">本人对参加此次赛做以下保证：</text></g>
<g id="n11_6a"><rect class="box" x="1949" y="5692" width="199" height="28" rx="4"/><text class="t" x="1955.5" y="5711">1、我保证：遵守比赛组委会所有</text></g>
<g id="n11_6a1"><rect class="box" x="2178" y="5692" width="256" height="28" rx="4"/><text class="t" x="2184.5" y="5711">规则和服从一切裁决，运动员参赛保证书。</text></g>
<g id="n11_6b"><rect class="box" x="1949" y="5749" width="268" height="44.7" rx="4"/><text class="t" x="1955.5" y="5768"><tspan x="1955.5">2、我保证对自己的参赛器材、装备及个人所</tspan><tspan x="1955.5" dy="16.6">有物品负有全部责任。</tspan></text></g>
<g id="n11_6c"><rect class="box" x="1949" y="5822" width="268" height="77.9" rx="4"/><text class="t" x="1955.5" y="5841"><tspan x="1955.5">3、我对在连续而激烈的比赛中可能发生的危</tspan><tspan x="1955.5" dy="16.6">险已有充分的认识，我保证本人的身体健康状</tspan><tspan x="1955.5" dy="16.6">况能够承受本次比赛，并具备近期健康检查证</tspan><tspan x="1955.5" dy="16.6">明书。</tspan></text></g>
<g id="n11_6d"><rect class="box" x="1949" y="5928" width="268" height="61.3" rx="4"/><text class="t" x="1955.5" y="5947"><tspan x="1955.5">4、我保证：本人在比赛中因受伤、遭遇意外</tspan><tspan x="1955.5" dy="16.6">事故或发生疾病时，对受到的急救处理方法及</tspan><tspan x="1955.5" dy="16.6">结果不提出异议。</tspan></text></g>
<g id="n11_6e"><rect class="box" x="1949" y="6018" width="268" height="177.5" rx="4"/><text class="t" x="1955.5" y="6037"><tspan x="1955.5">5、我本人、我的家属、亲戚和保护人已充分</tspan><tspan x="1955.5" dy="16.6">理解本次比赛的内容和意义，并认可我本人参</tspan><tspan x="1955.5" dy="16.6">赛。在比赛之前我已作了人身保险。因此，我</tspan><tspan x="1955.5" dy="16.6">保证：我自己、亲属及遗嘱执行人、财产继承</tspan><tspan x="1955.5" dy="16.6">人，对本人在比赛中或参加由本次比赛委会组</tspan><tspan x="1955.5" dy="16.6">织的与比赛有关的活动时，不论什么原因所致</tspan><tspan x="1955.5" dy="16.6">的伤、病、亡或出现的后遗症等，不对比赛组</tspan><tspan x="1955.5" dy="16.6">委会提出任何起诉。所造成的损失由保险公司</tspan><tspan x="1955.5" dy="16.6">和本人承担，比赛组委会不再提供因此而造成</tspan><tspan x="1955.5" dy="16.6">的损失</tspan></text></g>
<g id="n11_6f"><rect class="box" x="1949" y="6223" width="268" height="77.9" rx="4"/><text class="t" x="1955.5" y="6242"><tspan x="1955.5">6、我保证：允许比赛组织者自由使用和制作</tspan><tspan x="1955.5" dy="16.6">与比赛有关的我的名、照片等。并承认与本次</tspan><tspan x="1955.5" dy="16.6">比赛有关的新闻、广播、电视等商业宣传报道</tspan><tspan x="1955.5" dy="16.6">。</tspan></text></g>
<g id="n11_6g"><rect class="box" x="1949" y="6329" width="268" height="94.5" rx="4"/><text class="t" x="1955.5" y="6348"><tspan x="1955.5">7、我保证：由于自然灾害等客观原因造成比</tspan><tspan x="1955.5" dy="16.6">赛取消或变更比赛时间、内容所引起的有关费</tspan><tspan x="1955.5" dy="16.6">用问题，服从比赛组委会的决定;由于我个人</tspan><tspan x="1955.5" dy="16.6">的情况而不能参加比赛的，不要求退还参赛时</tspan><tspan x="1955.5" dy="16.6">所交纳的各种费用。</tspan></text></g>
<g id="n11_6h"><rect class="box" x="1949" y="6464" width="268" height="61.3" rx="4"/><text class="t" x="1955.5" y="6483"><tspan x="1955.5">8、我确认：对参赛所进行的上述保证已充分</tspan><tspan x="1955.5" dy="16.6">理解，并承认本保证书解释权属比赛组委会。</tspan><tspan x="1955.5" dy="16.6">本人自愿签。</tspan></text></g>
<g id="n11_6h1"><rect class="box" x="2247" y="6452" width="126" height="28" rx="4"/><text class="t" x="2253.5" y="6471">保证人签： 年 月 日</text></g>
<g id="n11_6h2"><rect class="box" x="2247" y="6508" width="258" height="28" rx="4"/><text class="t" x="2253.5" y="6527">选手参赛保证书参赛保证书（3）|返回目录</text></g>

<!-- 第2篇 -->
<g id="n2_1"><rect class="box" x="810" y="805" width="110" height="28" rx="4"/><text class="t" x="816.5" y="824">篇1：参赛申请书</text></g>
<g id="n2_2"><rect class="box" x="651.5" y="861.6" width="268.5" height="127.7" rx="4"/><text class="t" x="658" y="880.6"><tspan x="658">/retype/zoom/?pn=1&amp;x=0&amp;y=0&amp;raww=</tspan><tspan x="658" dy="16.6">307&amp;rawh=45&amp;o=jpg_6_0______&amp;type=</tspan><tspan x="658" dy="16.6">pic&amp;aimh=45&amp;md5sum=&amp;sign=30dd9e</tspan><tspan x="658" dy="16.6">3698&amp;zoom=&amp;png=0-&amp;jpg=0-" target=</tspan><tspan x="658" dy="16.6">"_blank_&gt;参该参赛申请书是国民生活体育全</tspan><tspan x="658" dy="16.6">国自行车联合会，作为选手登记用的资料，填</tspan><tspan x="658" dy="16.6">写时不可</tspan></text></g>
<g id="n2_3"><rect class="box" x="651.5" y="1017" width="268.5" height="61.3" rx="4"/><text class="t" x="658" y="1036"><tspan x="658">参赛费用 汇款银行： 外换银行（100-22-01</tspan><tspan x="658" dy="16.6">348-9）收款人：生活体育全国自行车联合</tspan><tspan x="658" dy="16.6">会</tspan></text></g>
<g id="n2_4"><rect class="box" x="702.2" y="1107" width="217.8" height="28" rx="4"/><text class="t" x="708.7" y="1126">国民生活体育全国自行车联合会馈赠</text></g>
<g id="n2_5"><rect class="box" x="651.5" y="1164" width="268.5" height="77.9" rx="4"/><text class="t" x="658" y="1183"><tspan x="658">tel： +82-2-420-5430（韩语）fax： +82-</tspan><tspan x="658" dy="16.6">2-420-5431e-mail： bikelife@篇2：参赛经</tspan><tspan x="658" dy="16.6">费申请书 参赛经费申请书 尊敬的艺术系领导</tspan><tspan x="658" dy="16.6">： 你好!</tspan></text></g>
<g id="n2_6"><rect class="box" x="651.5" y="1269" width="268.5" height="160.9" rx="4"/><text class="t" x="658" y="1288"><tspan x="658">为深化教学改革，提高教学质量，加强实践教</tspan><tspan x="658" dy="16.6">学，激励全国高校文科类大学生学习计算机知</tspan><tspan x="658" dy="16.6">识和技能的积极性，提高其运用信息技术解决</tspan><tspan x="658" dy="16.6">实际问题的综合能力，培养其创新能力及团队</tspan><tspan x="658" dy="16.6">合作精神，推动高校文科类计算机课程体系、</tspan><tspan x="658" dy="16.6">教学体系、教学内容和教学方法的改革，教育</tspan><tspan x="658" dy="16.6">部高等学校文科计算机基础教学指导委员会举</tspan><tspan x="658" dy="16.6">办了"2011年(第4届)中国大学生(文科)计算机</tspan><tspan x="658" dy="16.6">设计大赛"。</tspan></text></g>
<g id="n2_7"><rect class="box" x="651.5" y="1458" width="268.5" height="144.3" rx="4"/><text class="t" x="658" y="1477"><tspan x="658">在学校领导和原动力公司的支持下，动漫设计</tspan><tspan x="658" dy="16.6">专业学生_、毛盾、吴燕珊在指导老师李强生</tspan><tspan x="658" dy="16.6">、袁刚的指导下，经过五个月的努力，完成的</tspan><tspan x="658" dy="16.6">作品《冰岛钓鱼记》，以武汉语言文化职业学</tspan><tspan x="658" dy="16.6">院动漫设计专业名义参报此次大赛，并取得了</tspan><tspan x="658" dy="16.6">入围决赛的好成绩，为学校争得了荣誉。我们</tspan><tspan x="658" dy="16.6">有信心，更有能力在决赛时取得好成绩，为学</tspan><tspan x="658" dy="16.6">校争光。</tspan></text></g>
<g id="n2_8"><rect class="box" x="651.5" y="1716" width="268.5" height="44.7" rx="4"/><text class="t" x="658" y="1735"><tspan x="658">现向学校申请参加决赛所需要的费用支持。所</tspan><tspan x="658" dy="16.6">需费用明细：</tspan></text></g>
<g id="n2_8a"><rect class="box" x="531.2" y="1630" width="89.8" height="28" rx="4"/><text class="t" x="537.7" y="1649">望院领导批准</text></g>
<g id="n2_8b"><rect class="box" x="353.5" y="1687" width="267.5" height="44.7" rx="4"/><text class="t" x="360" y="1706"><tspan x="360">艺术系动漫设计专业 2011年6月9日篇3：集</tspan><tspan x="360" dy="16.6">体参赛申请表</tspan></text></g>
<g id="n2_8c"><rect class="box" x="353.5" y="1809" width="267.5" height="44.7" rx="4"/><text class="t" x="360" y="1828"><tspan x="360">第十届"为学杯"全国中小学生创新作文大赛</tspan><tspan x="360" dy="16.6">组织单位集体参赛申请表</tspan></text></g>
<g id="n2_8c1"><rect class="box" x="55" y="1761" width="268" height="61.3" rx="4"/><text class="t" x="61.5" y="1780"><tspan x="61.5">编号： 说明：1．以上表格由参赛单位在组织</tspan><tspan x="61.5" dy="16.6">参赛前填写后邮寄、传真或e-mail发至大赛</tspan><tspan x="61.5" dy="16.6">组委会；</tspan></text></g>
<g id="n2_8c2"><rect class="box" x="55" y="1850" width="268" height="44.7" rx="4"/><text class="t" x="61.5" y="1869"><tspan x="61.5">2．大赛组委会凭此表为集体参赛单位备案，</tspan><tspan x="61.5" dy="16.6">并根据此表信息寄发组织大赛所需材料。</tspan></text></g>

<!-- 第4篇 -->
<g id="n4_1"><rect class="box" x="651.5" y="1923" width="268.5" height="77.9" rx="4"/><text class="t" x="658" y="1942"><tspan x="658">有人听到比赛都会想跃跃欲试，比赛是一种公</tspan><tspan x="658" dy="16.6">*竞争，既可测试自己的实力，让你的技艺精</tspan><tspan x="658" dy="16.6">湛。还有，在团体方面，让你了解团结就是力</tspan><tspan x="658" dy="16.6">量，大家互相合作，才会有好的成绩。</tspan></text></g>
<g id="n4_2"><rect class="box" x="651.5" y="2030" width="268.5" height="61.3" rx="4"/><text class="t" x="658" y="2049"><tspan x="658">我参加过各种比赛，有跆拳道、围棋、歌唱、</tspan><tspan x="658" dy="16.6">画画等……，其中我印象最深刻的是围棋比赛</tspan><tspan x="658" dy="16.6">。</tspan></text></g>
<g id="n4_3"><rect class="box" x="651.5" y="2118.6" width="268.5" height="127.7" rx="4"/><text class="t" x="658" y="2137.6"><tspan x="658">记得当天会场盛况空前，挤的水泄不通，将近</tspan><tspan x="658" dy="16.6">有千人比赛，不输步行街的人潮汹涌。比赛开</tspan><tspan x="658" dy="16.6">始时，参赛者目不转睛盯着棋盘，三缄其口，</tspan><tspan x="658" dy="16.6">深怕自己的计谋会被拆穿，认真埋头思索着，</tspan><tspan x="658" dy="16.6">小心翼翼，深怕不小心下错棋，每个人都希望</tspan><tspan x="658" dy="16.6">把对方打得落荒而逃，让他剩下残兵败降，废</tspan><tspan x="658" dy="16.6">子一堆，进攻、围地就成功了。</tspan></text></g>
<g id="n4_4"><rect class="box" x="651.5" y="2274" width="268.5" height="61.3" rx="4"/><text class="t" x="658" y="2293"><tspan x="658">一场比赛下来，有人眉开眼笑，有人愁眉苦脸</tspan><tspan x="658" dy="16.6">，而我呢?光荣的失败了，而弟弟最不被看好</tspan><tspan x="658" dy="16.6">的竟然**领奖。</tspan></text></g>
<g id="n4_5"><rect class="box" x="651.5" y="2364" width="268.5" height="44.7" rx="4"/><text class="t" x="658" y="2383"><tspan x="658">经过这场比赛，输赢并不重要，重要的是比赛</tspan><tspan x="658" dy="16.6">的过程，让我学习到人与人之间要互相尊重。</tspan></text></g>

<!-- 第6篇 -->
<g id="n6_1"><rect class="box" x="804.6" y="2683" width="115.4" height="28" rx="4"/><text class="t" x="811.1" y="2702">尊敬的学校领导：</text></g>
<g id="n6_1a"><rect class="box" x="710.8" y="2437.5" width="64.2" height="28" rx="4"/><text class="t" x="717.3" y="2456.5">你们好！</text></g>
<g id="n6_1b"><rect class="box" x="507" y="2495" width="268" height="144.3" rx="4"/><text class="t" x="513.5" y="2514"><tspan x="513.5">中国一直是羽毛球强国，羽毛球在中国也是一</tspan><tspan x="513.5" dy="16.6">项十分普及，十分受欢迎的运动。在我们学校</tspan><tspan x="513.5" dy="16.6">羽毛球也是很受欢迎，我们学校有许多羽毛球</tspan><tspan x="513.5" dy="16.6">的爱好者，其中更有许多同学羽毛球打的是非</tspan><tspan x="513.5" dy="16.6">常不错。我们羽毛球社团的队员和学校羽毛球</tspan><tspan x="513.5" dy="16.6">爱好者，他们都非常希望学校领导能给我们所</tspan><tspan x="513.5" dy="16.6">有羽毛球爱好者一次真正比试的机会，在学校</tspan><tspan x="513.5" dy="16.6">举办一次羽毛球比赛。</tspan></text></g>
<g id="n6_1c"><rect class="box" x="507" y="2667" width="268" height="127.7" rx="4"/><text class="t" x="513.5" y="2686"><tspan x="513.5">我们希望通过这次比赛，增进同学间的交流，</tspan><tspan x="513.5" dy="16.6">丰富同学的校园生活。我们学校在之前举办其</tspan><tspan x="513.5" dy="16.6">他项目的比赛，同学们的反响很好。我相信多</tspan><tspan x="513.5" dy="16.6">举办些这样的比赛，在丰富校园生活的同时，</tspan><tspan x="513.5" dy="16.6">也能在体育竞赛中激发同学们敢于拼搏，敢于</tspan><tspan x="513.5" dy="16.6">奋斗的精神，同时也能培养各个团队的协作能</tspan><tspan x="513.5" dy="16.6">力。</tspan></text></g>
<g id="n6_1d"><rect class="box" x="507" y="2821" width="268" height="77.9" rx="4"/><text class="t" x="513.5" y="2840"><tspan x="513.5">最后，我郑重地向学校领导提出申请，希望学</tspan><tspan x="513.5" dy="16.6">校领导给我们一次机会，在学校举办一次羽毛</tspan><tspan x="513.5" dy="16.6">球比赛。如果这次的申请能得到校领导的批准</tspan><tspan x="513.5" dy="16.6">，我们有信心将这次的比赛举办的成功圆满。</tspan></text></g>
<g id="n6_1e"><rect class="box" x="660" y="2928" width="115" height="28" rx="4"/><text class="t" x="666.5" y="2947">望学校领导批准!</text></g>
<g id="n6_2"><rect class="box" x="856" y="2984" width="64" height="28" rx="4"/><text class="t" x="862.5" y="3003">申请人：</text></g>
<g id="n6_3"><rect class="box" x="843" y="3041.6" width="77" height="28" rx="4"/><text class="t" x="849.5" y="3060.6">申请日期：</text></g>

<!-- 第8篇 -->
<g id="n8_1"><rect class="box" x="651.5" y="3602" width="268.5" height="94.5" rx="4"/><text class="t" x="658" y="3621"><tspan x="658">20xx年6月2327在天津我校电气专业的两名</tspan><tspan x="658" dy="16.6">同学刘明、王振斌代表北京市参加了《电气安</tspan><tspan x="658" dy="16.6">装与维修》项目全国技能大赛，并取得了全国</tspan><tspan x="658" dy="16.6">三等奖的好成绩。现将对竞赛活动中的收获与</tspan><tspan x="658" dy="16.6">体会总结如下：</tspan></text></g>
<g id="n8_1a"><rect class="box" x="396" y="3122" width="225" height="28" rx="4"/><text class="t" x="402.5" y="3141">1、校领导高度重视，早部署、早策划</text></g>
<g id="n8_1a1"><rect class="box" x="98" y="3097" width="269" height="77.9" rx="4"/><text class="t" x="104.5" y="3116"><tspan x="104.5">在筹备、组织竞赛活动期间，学校各级领导对</tspan><tspan x="104.5" dy="16.6">本届技能大赛活动给予了大力指导和中肯的建</tspan><tspan x="104.5" dy="16.6">议；王建民副校长自始至终地关注整个课外辅</tspan><tspan x="104.5" dy="16.6">导及竞赛的活动现场。</tspan></text></g>
<g id="n8_1b"><rect class="box" x="371" y="3623" width="250" height="28" rx="4"/><text class="t" x="377.5" y="3642">2、师生积极参与，体现了良好的精神风貌</text></g>
<g id="n8_1b1"><rect class="box" x="73" y="3204" width="268.5" height="376.7" rx="4"/><text class="t" x="79.5" y="3223"><tspan x="79.5">20xx年三月份，得到消息，国家级技能大赛</tspan><tspan x="79.5" dy="16.6">要新增设电气设备安装与维修项目，消息传来</tspan><tspan x="79.5" dy="16.6">，学校领导非常重视，将这个任务就责无旁贷</tspan><tspan x="79.5" dy="16.6">的交给了我们电工组，我们电工组的老师们立</tspan><tspan x="79.5" dy="16.6">刻组织相关专业的学生16名，从组队到训练</tspan><tspan x="79.5" dy="16.6">，组内的老师们克服了自己教学任务重，担任</tspan><tspan x="79.5" dy="16.6">班主任等工作量大的困难，像高铮、高红、赵</tspan><tspan x="79.5" dy="16.6">永利、闫壮国等老师都是下了自己的课就去实</tspan><tspan x="79.5" dy="16.6">验室辅导学生，作为组长的我更不用说，那段</tspan><tspan x="79.5" dy="16.6">时间几乎没有课间休息，课间时给训练的学生</tspan><tspan x="79.5" dy="16.6">讲电动机单方向、正反转、星角降压启动控制</tspan><tspan x="79.5" dy="16.6">线路的原理、接线，上课铃响了，就要马上回</tspan><tspan x="79.5" dy="16.6">到所教班级进行正常教学，这样的情景坚持了</tspan><tspan x="79.5" dy="16.6">两个星期，之后我们通过考试、比赛最终确定</tspan><tspan x="79.5" dy="16.6">了六名同学作为北京市比赛的候选人，对他们</tspan><tspan x="79.5" dy="16.6">进行了"残酷的"训练，这一时间从3月27日到</tspan><tspan x="79.5" dy="16.6">4月14日，我们的老师和学生没有了白天和晚</tspan><tspan x="79.5" dy="16.6">上、没有了平时和双休日的区别，加班加点，</tspan><tspan x="79.5" dy="16.6">因为时间对于我们来说太紧了，从比赛题目的</tspan><tspan x="79.5" dy="16.6">确定到设备的到位一共就这么点时间，学生对</tspan><tspan x="79.5" dy="16.6">于所用的的PLC一无所知，甚至于我们的老师</tspan><tspan x="79.5" dy="16.6">也不是很熟悉，面对这些，我们怎么办？</tspan></text></g>
<g id="n8_1b2"><rect class="box" x="73" y="3606" width="268.5" height="160.9" rx="4"/><text class="t" x="79.5" y="3625"><tspan x="79.5">只有咬牙从头学，我们请来了厂家的技术员，</tspan><tspan x="79.5" dy="16.6">给我们的学生和老师一起讲PLC编程，从接线</tspan><tspan x="79.5" dy="16.6">到编程、调试，我们挺过来了，功夫不负有心</tspan><tspan x="79.5" dy="16.6">人，最终我们四名同学代表我校参加北京市电</tspan><tspan x="79.5" dy="16.6">气设备安装与维修项目比赛，取得了北京市第</tspan><tspan x="79.5" dy="16.6">一名和第三名的好成绩，第一名的刘明、王振</tspan><tspan x="79.5" dy="16.6">斌代表北京市参加全国技能大赛。在这个过程</tspan><tspan x="79.5" dy="16.6">中我真的感谢我们组的每一位老师，是他们的</tspan><tspan x="79.5" dy="16.6">无私帮助和奉献，支持着我，使我坚持下来。</tspan></text></g>
<g id="n8_1b3"><rect class="box" x="73" y="3795" width="268.5" height="177.5" rx="4"/><text class="t" x="79.5" y="3814"><tspan x="79.5">也使我明白了一个道理，那就是任何成功都离</tspan><tspan x="79.5" dy="16.6">不开团队的支持，这就是集体的力量。接下来</tspan><tspan x="79.5" dy="16.6">就是备战国赛，我考虑到由于前段时间的紧张</tspan><tspan x="79.5" dy="16.6">工作，每一个老师都很疲惫，为了能保证他们</tspan><tspan x="79.5" dy="16.6">的身体健康，因此我调整了辅导计划，主要由</tspan><tspan x="79.5" dy="16.6">我和高铮负责学生的辅导和训练，于是我们俩</tspan><tspan x="79.5" dy="16.6">就没有了休息日，尤其是六月份国赛设备到位</tspan><tspan x="79.5" dy="16.6">后，我们每天7点多到校、晚上8、9点才离校</tspan><tspan x="79.5" dy="16.6">，一直扎在实验室辅导着参赛学生。师生都体</tspan><tspan x="79.5" dy="16.6">现了良好的精神风貌。</tspan></text></g>
<g id="n8_1c"><rect class="box" x="384" y="4147" width="237" height="28" rx="4"/><text class="t" x="390.5" y="4166">3、突出专业特色，创新水平进一步提高</text></g>
<g id="n8_1c1"><rect class="box" x="86" y="4000" width="268" height="160.9" rx="4"/><text class="t" x="92.5" y="4019"><tspan x="92.5">竞赛的设立，为学生搭建起展示技艺的舞台。</tspan><tspan x="92.5" dy="16.6">学生积极投入训练和比赛，教师精心指导，更</tspan><tspan x="92.5" dy="16.6">多的学生从竞赛中受益。比赛、实训为一体，</tspan><tspan x="92.5" dy="16.6">工学结合促进了教学改革。许多技能竞赛活动</tspan><tspan x="92.5" dy="16.6">的过程，都是按照企业的要求来举办的，以行</tspan><tspan x="92.5" dy="16.6">业、企业各岗位的标准和要求来考察选手。这</tspan><tspan x="92.5" dy="16.6">对于各专业的老师来说，能更加明确企业需要</tspan><tspan x="92.5" dy="16.6">什么样的人和什么样的能力，有效地促进了专</tspan><tspan x="92.5" dy="16.6">业的教学改革和建设。</tspan></text></g>
<g id="n8_1c2"><rect class="box" x="86" y="4188" width="268" height="111.1" rx="4"/><text class="t" x="92.5" y="4207"><tspan x="92.5">本届职业技能竞赛的开展是对我组教学培训成</tspan><tspan x="92.5" dy="16.6">果的一次检验，也是进一步推动我教研组职业</tspan><tspan x="92.5" dy="16.6">技能训练和就业工作向纵深发展的催化剂。在</tspan><tspan x="92.5" dy="16.6">今后一年一度的职业技能竞赛中，我们将以比</tspan><tspan x="92.5" dy="16.6">赛为契机，提高教师和学生的技术技能以及参</tspan><tspan x="92.5" dy="16.6">赛团队的整体水平，取得更好成绩。</tspan></text></g>

<!-- 第10篇 -->
<g id="n10_1"><rect class="box" x="809" y="4531" width="101" height="28" rx="4"/><text class="t" x="815.5" y="4550">尊敬的院校**：</text></g>
<g id="n10_1a"><rect class="box" x="511" y="4327.5" width="269" height="111.1" rx="4"/><text class="t" x="517.5" y="4346.5"><tspan x="517.5">我是大连市xx中学本校在籍学生，我已参加</tspan><tspan x="517.5" dy="16.6">意外伤害保险。我愿意**我的母校大连市xx中</tspan><tspan x="517.5" dy="16.6">学，参加普兰店市(普湾新区)教育局举办的"</tspan><tspan x="517.5" dy="16.6">阳光体育"迎春长跑接力比赛，接受上级对我</tspan><tspan x="517.5" dy="16.6">校"阳光体育"冬季长跑活动的开展情况的检阅</tspan><tspan x="517.5" dy="16.6">，为母校争光。</tspan></text></g>
<g id="n10_1b"><rect class="box" x="737" y="4466.6" width="43" height="28" rx="4"/><text class="t" x="743.5" y="4485.6">敬礼!</text></g>
<g id="n10_1c"><rect class="box" x="728.5" y="4523" width="51.5" height="28" rx="4"/><text class="t" x="735" y="4542">申请人</text></g>
<g id="n10_1d"><rect class="box" x="606" y="4579.6" width="174" height="28" rx="4"/><text class="t" x="612.5" y="4598.6">参加比赛申请书3篇扩展阅读</text></g>
<g id="n10_1e"><rect class="box" x="598" y="4637" width="182" height="28" rx="4"/><text class="t" x="604.5" y="4656">参加比赛申请书3篇（扩展1）</text></g>
<g id="n10_1f"><rect class="box" x="631" y="4694" width="149" height="28" rx="4"/><text class="t" x="637.5" y="4713">——参加团**申请书3篇</text></g>
</g>
</svg>
